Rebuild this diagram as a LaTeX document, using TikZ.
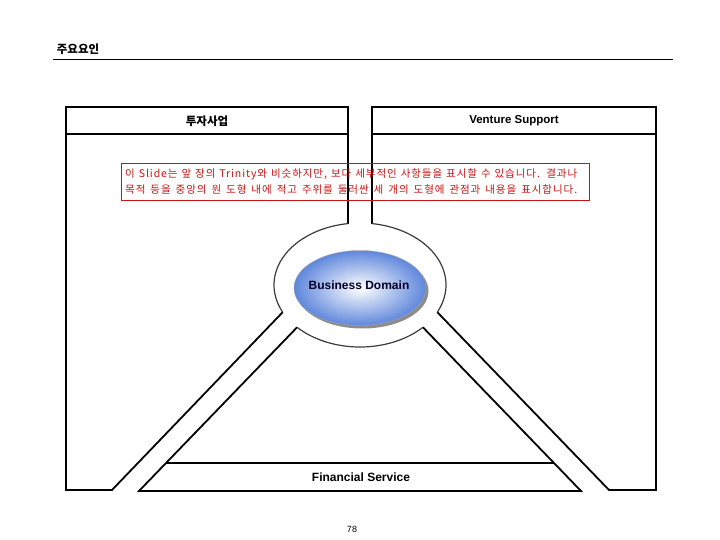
\documentclass[tikz,border=0pt]{standalone}
\usepackage{fontspec}
\setmainfont{Liberation Sans}
\newfontfamily\kr{Noto Sans CJK KR}
\newfontfamily\krsp{Noto Sans CJK KR}[LetterSpace=9]
\usetikzlibrary{shapes.geometric}
\definecolor{ringgray}{RGB}{60,60,60}
\definecolor{domblue}{RGB}{95,135,220}
\definecolor{notered}{RGB}{200,20,20}
\begin{document}
\begin{tikzpicture}[x=1pt,y=-1pt,
  frame/.style={draw=black,line width=1.8pt,line join=miter},
  ring/.style={draw=ringgray,line width=1.2pt},
  headtxt/.style={font=\bfseries\fontsize{11.5}{13}\selectfont,inner sep=0pt},
  notetxt/.style={font=\krsp\fontsize{10.5}{12}\selectfont,text=notered,inner sep=0pt,anchor=west}]
\useasboundingbox (0,0) rectangle (720,540);
\fill[white] (0,0) rectangle (720,540);

% title
\node[font=\kr\bfseries\fontsize{11.5}{13}\selectfont,inner sep=0pt] (title) at (78,49) {주요요인};
\coordinate (ulA) at (53,60);
\coordinate (ulB) at (673,60);
\draw[line width=1pt] (ulA) -- (ulB);

% key points on the ring (center 360,285; rx 86, ry 62)
\coordinate (lo) at ({360+86*cos(154)},{285+62*sin(154)});
\coordinate (ro) at ({360+86*cos(26)},{285+62*sin(26)});
\coordinate (li) at ({360+86*cos(137)},{285+62*sin(137)});
\coordinate (ri) at ({360+86*cos(43)},{285+62*sin(43)});

% left shape
\coordinate (L1) at (66,107);
\coordinate (L2) at (348,107);
\coordinate (L3) at (348,224);
\coordinate (L4) at (112,490);
\coordinate (L5) at (66,490);
\draw[frame] (L3) -- (L2) -- (L1) -- (L5) -- (L4) -- (lo);
\draw[frame] (66,134) -- (348,134);
\draw[ring] plot[domain=262:154,samples=50,smooth] ({360+86*cos(\x)},{285+62*sin(\x)});

% right shape
\coordinate (R1) at (372,107);
\coordinate (R2) at (656,107);
\coordinate (R3) at (656,490);
\coordinate (R4) at (609,490);
\coordinate (R5) at (372,224);
\draw[frame] (R5) -- (R1) -- (R2) -- (R3) -- (R4) -- (ro);
\draw[frame] (372,134) -- (656,134);
\draw[ring] plot[domain=278:386,samples=50,smooth] ({360+86*cos(\x)},{285+62*sin(\x)});

% bottom shape
\coordinate (B1) at (139,491);
\coordinate (B2) at (581,491);
\coordinate (F1) at (166,463);
\coordinate (F2) at (554,463);
\draw[frame] (li) -- (B1) -- (B2) -- (ri);
\draw[frame] (F1) -- (F2);
\draw[ring] plot[domain=137:43,samples=50,smooth] ({360+86*cos(\x)},{285+62*sin(\x)});

% headers
\node[font=\kr\bfseries\fontsize{11.5}{13}\selectfont,inner sep=0pt] (h1) at (207,121) {투자사업};
\node[headtxt] (h2) at (514,121) {Venture Support};
\node[font=\bfseries\fontsize{12}{14}\selectfont,inner sep=0pt] (h3) at (361,477) {Financial Service};

% central ellipse
\fill[black!45] (362.5,291) ellipse [x radius=66, y radius=37.5];
\node[ellipse,minimum width=132pt,minimum height=75pt,inner sep=0pt,
      inner color=white,outer color=domblue,draw=black!35,line width=0.4pt] (dom) at (360,288) {};
\node[font=\bfseries\fontsize{12}{14}\selectfont,inner sep=0pt,text=black!85!blue] (domtxt) at (359,285) {Business Domain};

% note box
\node[draw=notered,line width=0.7pt,minimum width=468pt,minimum height=37pt,inner sep=0pt] (note) at (355,181.5) {};
\node[notetxt] (n1) at (125,174) {\makebox[452pt][s]{이 Slide는 앞 장의 Trinity와 비슷하지만, 보다 세부적인 사항들을 표시할 수 있습니다.  결과나}};
\node[notetxt] (n2) at (125,190) {\makebox[452pt][s]{목적 등을 중앙의 원 도형 내에 적고 주위를 둘러싼 세 개의 도형에 관점과 내용을 표시합니다.}};

% page number
\node[font=\fontsize{9}{11}\selectfont,inner sep=0pt] (pg) at (352,529) {78};
\end{tikzpicture}
\end{document}
